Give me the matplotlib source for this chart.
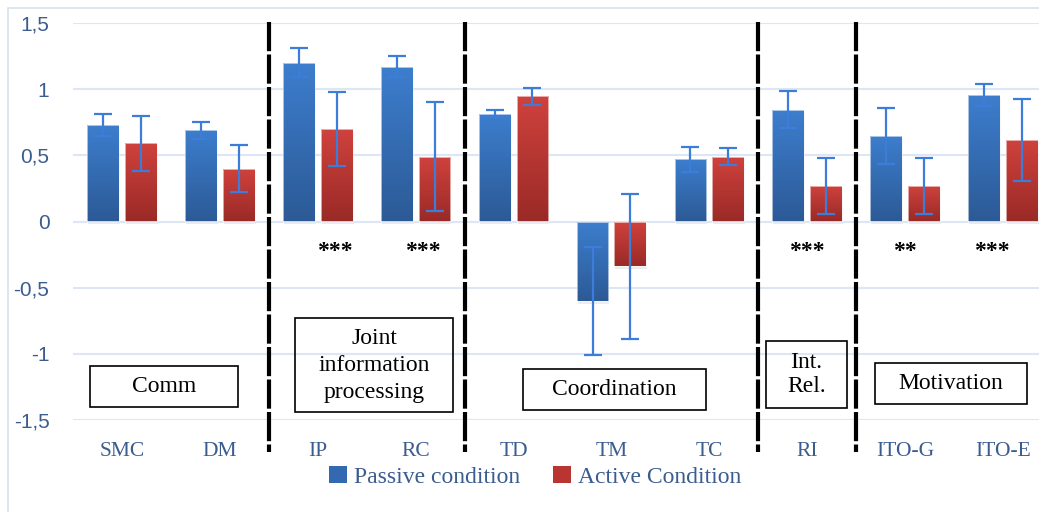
import numpy as np
import matplotlib.pyplot as plt
from matplotlib.colors import LinearSegmentedColormap
from matplotlib.patches import Patch, Rectangle

# ── Data ────────────────────────────────────────────────────────────────
categories = ['SMC', 'DM', 'IP', 'RC', 'TD', 'TM', 'TC', 'RI', 'ITO-G', 'ITO-E']
passive = [0.73, 0.69, 1.20, 1.17, 0.815, -0.60, 0.47, 0.845, 0.645, 0.955]
passive_err = [0.085, 0.065, 0.11, 0.08, 0.025, 0.41, 0.095, 0.14, 0.21, 0.085]
active = [0.59, 0.40, 0.70, 0.49, 0.945, -0.34, 0.49, 0.27, 0.27, 0.615]
active_err = [0.21, 0.18, 0.28, 0.41, 0.065, 0.55, 0.065, 0.21, 0.21, 0.31]
series_names = ['Passive condition', 'Active Condition']

separators = [1.5, 3.5, 6.5, 7.5]
sig_labels = ['IP', 'RC', 'RI', 'ITO-G', 'ITO-E']
sig_marks = ['***', '***', '***', '**', '***']
sig_shift = [0.17, 0.07, 0.0, 0.0, -0.11]

groups = ['Comm', 'Joint\ninformation\nprocessing', 'Coordination', 'Int.\nRel.', 'Motivation']
group_boxes = [(-0.327, 1.185, -1.404, -1.094),
               (1.767, 3.381, -1.442, -0.732),
               (4.096, 5.965, -1.426, -1.117),
               (6.578, 7.406, -1.411, -0.906),
               (7.692, 9.244, -1.381, -1.072)]
group_spacing = [1.2, 1.38, 1.2, 1.18, 1.2]

# ── Styles ──────────────────────────────────────────────────────────────
serif = 'Liberation Serif'
tick_col = '#3B5C8F'
grid_col = '#DCE6F4'
err_col = '#3C7DD9'
blue_map = LinearSegmentedColormap.from_list('b', ['#2C5A96', '#3D7ECE'])
red_map = LinearSegmentedColormap.from_list('r', ['#9A2A27', '#D0423D'])

fig = plt.figure(figsize=(10.39, 5.12), dpi=100)
ax = fig.add_axes([73 / 1039, 92 / 512, 979 / 1039, 397 / 512])

# outer chart border
fig.patches.append(Rectangle((8 / 1039, -0.1), 1.2, 1 - 8 / 512 + 0.1,
                             transform=fig.transFigure, fill=False,
                             edgecolor='#D6E1EF', lw=1.2))

x = np.arange(len(categories))
w = 0.325
off = 0.193

grad = np.linspace(0, 1, 200).reshape(-1, 1)

for vals, errs, cmap, sign in [(passive, passive_err, blue_map, -1),
                               (active, active_err, red_map, 1)]:
    xs = x + sign * off
    # soft shadow
    ax.bar(xs + 0.01, vals, w, bottom=-0.02, color='#000000', alpha=0.07, zorder=1)
    bars = ax.bar(xs, vals, w, color='none', edgecolor='#FFFFFF', lw=0.4, zorder=3)
    for b in bars:
        x0, y0 = b.get_x(), b.get_y()
        x1, y1 = x0 + b.get_width(), y0 + b.get_height()
        im = ax.imshow(grad, extent=(x0, x1, min(y0, y1), max(y0, y1)),
                       origin='lower', aspect='auto', cmap=cmap, zorder=2)
        im.set_clip_path(b)
    ax.errorbar(xs, vals, yerr=errs, fmt='none', ecolor=err_col, elinewidth=1.6,
                capsize=6.5, capthick=1.6, zorder=4)

# dashed group separators
for s in separators:
    ax.plot([s, s], [1.51, -1.74], color='black', lw=3,
            linestyle=(0, (7, 0.8)), clip_on=False, zorder=5)

# significance stars
for lab, mark, sh in zip(sig_labels, sig_marks, sig_shift):
    ax.text(categories.index(lab) + sh, -0.23, mark, ha='center', va='center',
            family=serif, fontsize=17, fontweight='bold', color='black')

# group label boxes
for name, (bx0, bx1, by0, by1), ls in zip(groups, group_boxes, group_spacing):
    ax.add_patch(Rectangle((bx0, by0), bx1 - bx0, by1 - by0, fill=False,
                           edgecolor='black', lw=1.2, zorder=5, clip_on=False))
    ax.text((bx0 + bx1) / 2, (by0 + by1) / 2, name, ha='center', va='center',
            family=serif, fontsize=17, linespacing=ls, zorder=6)

ax.set_xlim(-0.5, len(categories) - 0.5)
ax.set_ylim(-1.5, 1.5)
ax.set_yticks([1.5, 1, 0.5, 0, -0.5, -1, -1.5])
ax.set_yticklabels(['1,5', '1', '0,5', '0', '-0,5', '-1', '-1,5'],
                   family='Liberation Sans', fontsize=15, color=tick_col)
ax.set_xticks(x)
ax.set_xticklabels(categories, family=serif, fontsize=15.5, color=tick_col)
ax.tick_params(axis='both', length=0)
ax.tick_params(axis='x', pad=16)
ax.tick_params(axis='y', pad=17)
ax.grid(axis='y', color=grid_col, lw=1.5, zorder=0)
ax.set_axisbelow(True)
for sp in ax.spines.values():
    sp.set_visible(False)

handles = [Patch(facecolor='#3269B0'), Patch(facecolor='#B83532')]
fig.legend(handles, series_names, loc='center', bbox_to_anchor=(535 / 1039, 1 - 477 / 512),
           ncol=2, frameon=False, handlelength=0.75, handleheight=0.75,
           handletextpad=0.3, columnspacing=1.4,
           prop={'family': serif, 'size': 17}, labelcolor=tick_col)

fig.savefig('out.png', dpi=100)
